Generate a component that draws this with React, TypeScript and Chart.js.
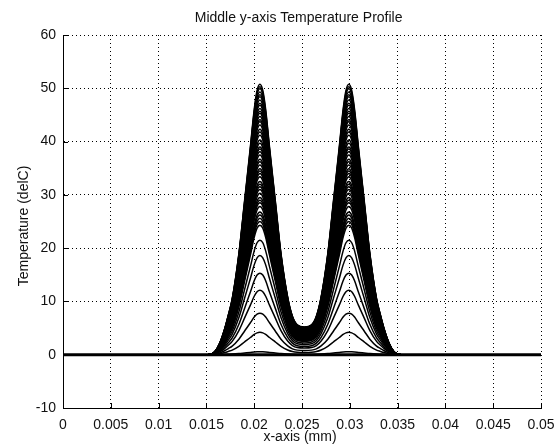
import React, { useEffect, useRef } from "react";
import { Chart, registerables } from "chart.js";

Chart.register(...registerables);

// Text
const chartTitle = "Middle y-axis Temperature Profile";
const xAxisTitle = "x-axis (mm)";
const yAxisTitle = "Temperature (delC)";

// Axis ticks
const xTickValues = [0, 0.005, 0.01, 0.015, 0.02, 0.025, 0.03, 0.035, 0.04, 0.045, 0.05];
const xTickLabels = ["0", "0.005", "0.01", "0.015", "0.02", "0.025", "0.03", "0.035", "0.04", "0.045", "0.05"];
const yTickValues = [-10, 0, 10, 20, 30, 40, 50, 60];
const yTickLabels = ["-10", "0", "10", "20", "30", "40", "50", "60"];

// Sample positions along the x-axis (mm)
const xPositions = [
  0, 0.005, 0.01, 0.0151, 0.0155, 0.0159, 0.0164, 0.0169, 0.0173, 0.0177,
  0.0184, 0.019, 0.0196, 0.02, 0.0203, 0.0206, 0.0209, 0.0212, 0.0216, 0.0222,
  0.0228, 0.0235, 0.024, 0.0245, 0.02525, 0.026, 0.0265, 0.027, 0.0277, 0.0283,
  0.0289, 0.0293, 0.0296, 0.0299, 0.0302, 0.0305, 0.0309, 0.0315, 0.0321, 0.0328,
  0.0332, 0.0336, 0.0341, 0.0346, 0.035, 0.0354, 0.04, 0.045, 0.05,
];

// Hottest (final) temperature profile along the middle line (delC)
const finalProfile = [
  0, 0, 0, 0, 0.1, 0.6, 2.2, 4.8, 7.5, 10.5,
  19, 29, 39, 46, 49.6, 50.75, 49.6, 46, 39, 29,
  19, 10.8, 7.2, 5.6, 5.2, 5.6, 7.2, 10.8, 19, 29,
  39, 46, 49.6, 50.75, 49.6, 46, 39, 29, 19, 10.5,
  7.5, 4.8, 2.2, 0.6, 0.1, 0, 0, 0, 0,
];
const finalPeak = 50.75;

// Peak temperature of each plotted time step (delC)
const stepPeaks = [
  0, 0.55, 4.2, 7.8, 12.1, 15.3, 18.6, 21.5, 24.3,
  25.0, 25.6, 26.2, 26.8, 27.8,
  28.5, 29.0, 29.5, 30.3,
  31.0, 31.5, 32.0, 32.5, 33.4,
  34.0, 34.5, 34.9, 35.6,
  36.2, 36.7, 37.5,
  38.1, 38.6, 39.0, 39.7,
  40.3, 41.2,
  41.8, 42.3, 43.1,
  43.7, 44.1, 44.7,
  45.3, 45.7, 46.2,
  46.8, 47.2, 47.8,
  48.4, 48.8, 49.3,
  49.9, 50.3, 50.75,
];

const FONT = "'Liberation Sans', Arial, Helvetica, sans-serif";

const decorations = {
  id: "matlabDecor",
  afterDraw(chart: any) {
    const { ctx, chartArea, scales } = chart;
    const xs = scales.x;
    const ys = scales.y;
    ctx.save();
    // inward tick marks
    ctx.strokeStyle = "#000";
    ctx.lineWidth = 1;
    ctx.beginPath();
    xTickValues.forEach((v) => {
      const px = Math.round(xs.getPixelForValue(v)) + 0.5;
      ctx.moveTo(px, chartArea.bottom);
      ctx.lineTo(px, chartArea.bottom - 5);
    });
    yTickValues.forEach((v) => {
      const py = Math.round(ys.getPixelForValue(v)) + 0.5;
      ctx.moveTo(chartArea.left, py);
      ctx.lineTo(chartArea.left + 5, py);
    });
    ctx.stroke();

    // titles
    ctx.fillStyle = "#111";
    ctx.font = `14px ${FONT}`;
    ctx.textAlign = "center";
    ctx.textBaseline = "middle";
    ctx.fillText(chartTitle, 298.6, 18);
    ctx.fillText(xAxisTitle, 300, 437);
    ctx.translate(24.5, 226);
    ctx.rotate(-Math.PI / 2);
    ctx.fillText(yAxisTitle, 0, 0);
    ctx.restore();
  },
};

export default function App() {
  const canvasRef = useRef<HTMLCanvasElement | null>(null);

  useEffect(() => {
    const canvas = canvasRef.current;
    if (!canvas) return;

    const datasets = stepPeaks.map((peak, k) => ({
      label: `step ${k}`,
      data: xPositions.map((x, i) => ({ x, y: (finalProfile[i] * peak) / finalPeak })),
      borderColor: "#000",
      // the initial (uniform) profile is drawn heavier
      borderWidth: k === 0 ? 3 : 1.5,
      pointRadius: 0,
      fill: false,
      cubicInterpolationMode: "monotone" as const,
    }));

    const chart = new Chart(canvas, {
      type: "line",
      data: { datasets },
      options: {
        animation: false,
        responsive: false,
        devicePixelRatio: 1,
        layout: { padding: { left: 0, right: 13, top: 35, bottom: 0 } },
        plugins: {
          legend: { display: false },
          tooltip: { enabled: false },
          title: { display: false },
        },
        scales: {
          x: {
            type: "linear",
            min: 0,
            max: 0.05,
            afterBuildTicks: (axis: any) => {
              axis.ticks = xTickValues.map((value) => ({ value }));
            },
            afterFit: (axis: any) => {
              axis.height = 40;
              axis.paddingLeft = 0;
              axis.paddingRight = 0;
            },
            ticks: {
              autoSkip: false,
              maxRotation: 0,
              padding: 9,
              color: "#111",
              font: { family: FONT, size: 14 },
              callback: (_v: any, i: number) => xTickLabels[i],
            },
            grid: { color: "#000", lineWidth: 1, drawTicks: false },
            border: { display: true, color: "#000", width: 1, dash: [1, 3] },
          },
          y: {
            type: "linear",
            min: -10,
            max: 60,
            afterBuildTicks: (axis: any) => {
              axis.ticks = yTickValues.map((value) => ({ value }));
            },
            afterFit: (axis: any) => {
              axis.width = 63;
              axis.paddingTop = 0;
              axis.paddingBottom = 0;
            },
            ticks: {
              autoSkip: false,
              padding: 7,
              color: "#111",
              font: { family: FONT, size: 14 },
              callback: (_v: any, i: number) => yTickLabels[i],
            },
            grid: { color: "#000", lineWidth: 1, drawTicks: false },
            border: { display: true, color: "#000", width: 1, dash: [1, 3] },
          },
        },
      },
      plugins: [decorations],
    });

    return () => chart.destroy();
  }, []);

  return (
    <div style={{ position: "fixed", left: 0, top: 0, width: 554, height: 448, background: "#fff" }}>
      <canvas ref={canvasRef} width={554} height={448} style={{ width: 554, height: 448, display: "block" }} />
    </div>
  );
}
